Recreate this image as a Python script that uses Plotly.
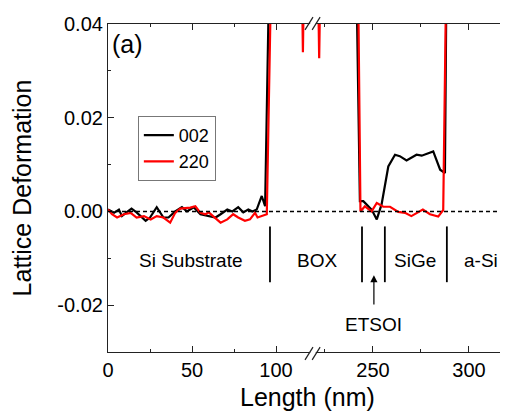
import plotly.graph_objects as go

# 002 reflection, left part (0-120 nm) and right part (220-320 nm)
x002_left = [0, 3.6, 6.5, 8.3, 11, 14, 17, 22.4, 25, 29, 33, 36, 40, 44, 47, 51, 55, 60, 64, 67,
             71, 74, 77.5, 80.5, 83.5, 86, 88.5, 91.5, 93.5, 96.4, 121]
y002_left = [0.0004, -0.0003, 0.0004, -0.001, -0.0002, 0.0006, -0.0002, -0.002, -0.0013, 0.0009,
             -0.0013, -0.0013, 0, 0.0009, 0, 0.0009, -0.0006, -0.001, -0.0013, -0.0006,
             0.0004, 0, 0.0009, -0.0002, 0.0004, 0, 0.0004, 0.0033, 0.0011, 0.06, 0.06]
x002_right = [219, 241, 243.2, 245, 249.3, 252, 254.5, 258, 261.5, 264, 267.5, 272.7, 275.4,
              281.4, 285, 287.5, 288.5, 320]
y002_right = [0.06, 0.06, 0.0022, 0.0022, 0.0004, -0.0017, 0.0015, 0.0096, 0.0121, 0.0118,
              0.0109, 0.0121, 0.0119, 0.0128, 0.0089, 0.0082, 0.06, 0.06]

# 220 reflection
x220_left = [0, 2.4, 5.4, 9.5, 13.5, 17, 21.4, 25.4, 29, 33, 37, 40, 43, 49, 52, 55, 58, 60,
             62.5, 67, 71, 74.5, 77.5, 81.5, 84.5, 87.5, 89, 92, 94.5, 97.6, 115, 116, 117, 121]
y220_left = [0.0004, -0.0006, -0.0013, -0.0006, -0.0003, -0.0013, -0.001, -0.0017, -0.001, -0.0013,
             -0.0024, -0.0003, 0.0006, 0.0008, 0.0011, -0.0003, -0.0006, -0.0002, -0.001, -0.0024,
             -0.0017, -0.0006, -0.0013, -0.002, -0.0017, -0.0003, -0.0013, -0.001, -0.0006, 0.06,
             0.06, 0.034, 0.06, 0.06]
x220_right = [219, 221, 222, 223, 242, 243.5, 245.8, 249.3, 252, 255.4, 258.9, 263.2, 266.7, 270,
              276, 279.7, 284, 286.6, 288.5, 320]
y220_right = [0.06, 0.06, 0.0327, 0.06, 0.06, 0, 0.0011, 0, 0.0018, 0.001, 0.001, -0.0001,
              -0.0003, -0.001, 0.0004, -0.0006, -0.0011, 0.0003, 0.06, 0.06]

y_ticks = [-0.02, 0, 0.02, 0.04]
y_ticktext = ["-0.02", "0.00", "0.02", "0.04"]

region_lines_left = [96.4]
region_lines_right = [244.3, 256.2, 288.5]
region_labels = ["Si Substrate", "BOX", "SiGe", "a-Si"]
region_label_x = [49.4, 220.8, 271.9, 306.3]

font = "Liberation Sans, Arial, sans-serif"

fig = go.Figure()
fig.add_trace(go.Scatter(x=x002_left, y=y002_left, mode="lines", name="002",
                         line=dict(color="black", width=2.2), xaxis="x", yaxis="y"))
fig.add_trace(go.Scatter(x=x220_left, y=y220_left, mode="lines", name="220",
                         line=dict(color="#ff0000", width=2.2), xaxis="x", yaxis="y"))
fig.add_trace(go.Scatter(x=x002_right, y=y002_right, mode="lines", showlegend=False,
                         line=dict(color="black", width=2.2), xaxis="x2", yaxis="y2"))
fig.add_trace(go.Scatter(x=x220_right, y=y220_right, mode="lines", showlegend=False,
                         line=dict(color="#ff0000", width=2.2), xaxis="x2", yaxis="y2"))

axis_common = dict(showline=True, linecolor="#222", linewidth=1.2, ticks="inside", ticklen=6,
                   tickcolor="#222", showgrid=False, zeroline=False, automargin=False,
                   tickfont=dict(family=font, size=20, color="black"))

# page body has an 8px margin, so the figure is sized to fit inside it
fig.update_layout(
    width=500, height=409,
    margin=dict(l=100, r=2, t=16, b=65),
    plot_bgcolor="white", paper_bgcolor="white",
    xaxis=dict(domain=[0, 0.51], range=[0, 120.8], tickvals=[0, 50, 100], anchor="y",
               mirror="ticks", minor=dict(tickvals=[25, 75], ticklen=3, ticks="inside",
                                          tickcolor="#222"), **axis_common),
    xaxis2=dict(domain=[0.52, 1], range=[219.8, 319.3], tickvals=[250, 300], anchor="y2",
                mirror="ticks", minor=dict(tickvals=[225, 275], ticklen=3, ticks="inside",
                                           tickcolor="#222"), **axis_common),
    yaxis=dict(range=[-0.03, 0.04], tickvals=y_ticks, ticktext=y_ticktext,
               anchor="x", minor=dict(tickvals=[-0.01, 0.01, 0.03], ticklen=3, ticks="inside",
                                      tickcolor="#222"),
               title=dict(text="Lattice Deformation", font=dict(family=font, size=25, color="black"),
                          standoff=25),
               **axis_common),
    yaxis2=dict(range=[-0.03, 0.04], matches="y", anchor="x2", side="right",
                showticklabels=False, minor=dict(tickvals=[-0.01, 0.01, 0.03], ticklen=3,
                                                 ticks="inside", tickcolor="#222"),
                **axis_common),
    legend=dict(x=0.075, y=0.72, xanchor="left", yanchor="top", bgcolor="white",
                bordercolor="#777", borderwidth=1, font=dict(family=font, size=18, color="black"),
                tracegroupgap=0),
)

# dashed zero line
fig.add_shape(type="line", xref="paper", yref="y", x0=0, x1=1, y0=0, y1=0,
              line=dict(color="black", width=1.5, dash="4px,3px"))

# region separators
for xv in region_lines_left:
    fig.add_shape(type="line", xref="x", yref="y", x0=xv, x1=xv, y0=-0.0032, y1=-0.0151,
                  line=dict(color="black", width=1.8))
for xv in region_lines_right:
    fig.add_shape(type="line", xref="x2", yref="y2", x0=xv, x1=xv, y0=-0.0032, y1=-0.0151,
                  line=dict(color="black", width=1.8))

# axis break marks
for yb, yt in [(-0.024, 0.015), (0.982, 1.021)]:
    fig.add_shape(type="rect", xref="paper", yref="paper", x0=0.508, x1=0.522,
                  y0=yb + 0.012, y1=yt - 0.012, fillcolor="white", line=dict(width=0))
    for xs in [0.495, 0.513]:
        fig.add_shape(type="line", xref="paper", yref="paper", x0=xs, y0=yb, x1=xs + 0.02, y1=yt,
                      line=dict(color="#222", width=1.2))

for lab, xv in zip(region_labels, region_label_x):
    fig.add_annotation(text=lab, x=xv, y=-0.0104, xref="x" if xv < 121 else "x2", yref="y",
                       showarrow=False, font=dict(family=font, size=19, color="black"))

fig.add_annotation(text="", x=250.5, y=-0.0136, ax=250.5, ay=-0.0202, xref="x2", yref="y",
                   axref="x2", ayref="y", showarrow=True, arrowhead=2, arrowsize=1.2,
                   arrowwidth=1.2, arrowcolor="black")
fig.add_annotation(text="ETSOI", x=250.5, y=-0.0241, xref="x2", yref="y", showarrow=False,
                   font=dict(family=font, size=19, color="black"))
fig.add_annotation(text="(a)", x=0.05, y=0.939, xref="paper", yref="paper", showarrow=False,
                   xanchor="center", yanchor="middle",
                   font=dict(family=font, size=25, color="black"))
fig.add_annotation(text="Length (nm)", x=0.5, y=-0.137, xref="paper", yref="paper",
                   showarrow=False, xanchor="center", yanchor="middle",
                   font=dict(family=font, size=25, color="black"))

fig.write_html("out.html")
